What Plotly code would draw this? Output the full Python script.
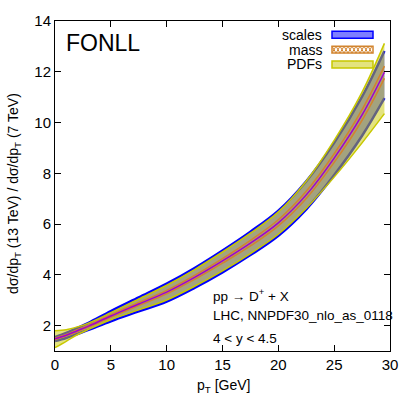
import plotly.graph_objects as go

# pT grid [GeV]
pt = [0, 1, 2, 3, 5, 7.5, 10, 12.5, 15, 17.5, 20, 22.5, 25, 27.5, 29.5]

# ratio dsigma/dpT (13 TeV) / dsigma/dpT (7 TeV), central value
central = [1.48, 1.62, 1.80, 1.98, 2.38, 2.85, 3.32, 3.90, 4.55, 5.25, 6.05, 7.15, 8.60, 10.30, 11.98]

# scale uncertainty band
scales_lo = [1.39, 1.51, 1.67, 1.83, 2.17, 2.56, 2.95, 3.49, 4.10, 4.78, 5.54, 6.58, 7.93, 9.48, 10.96]
scales_hi = [1.55, 1.71, 1.91, 2.11, 2.57, 3.11, 3.65, 4.27, 4.96, 5.70, 6.53, 7.69, 9.20, 11.02, 12.82]

# mass uncertainty band
mass_lo = [1.45, 1.59, 1.76, 1.94, 2.33, 2.79, 3.25, 3.82, 4.46, 5.14, 5.93, 7.01, 8.43, 10.09, 11.74]
mass_hi = [1.51, 1.65, 1.84, 2.02, 2.43, 2.91, 3.39, 3.98, 4.64, 5.36, 6.17, 7.29, 8.77, 10.51, 12.22]

# PDF uncertainty band
pdf_lo = [1.13, 1.38, 1.64, 1.85, 2.23, 2.62, 3.01, 3.55, 4.16, 4.84, 5.60, 6.62, 7.85, 9.20, 10.35]
pdf_hi = [1.80, 1.84, 1.95, 2.10, 2.51, 3.05, 3.59, 4.21, 4.90, 5.64, 6.48, 7.70, 9.30, 11.20, 13.12]

x_ticks = [0, 5, 10, 15, 20, 25, 30]
y_ticks = [2, 4, 6, 8, 10, 12, 14]

legend_names = ["scales", "mass", "PDFs"]
info_lines = ["pp \u2192 D<sup>+</sup> + X", "LHC, NNPDF30_nlo_as_0118", "4 < y < 4.5"]

FONT = "Liberation Sans, Arial, Helvetica, sans-serif"
BLUE = "#0000ff"
BLUE_FILL = "rgba(0,0,255,0.5)"
YELLOW = "#c8c800"
YELLOW_FILL = "rgba(200,200,0,0.5)"
ORANGE = "#d2842e"
PURPLE = "#a000d0"

# plot area in window pixels
LEFT, RIGHT, TOP, BOTTOM = 55, 390, 17, 351


def px_x(value):
    return (value - LEFT) / (RIGHT - LEFT)


def px_y(value):
    return (BOTTOM - value) / (BOTTOM - TOP)


def band(figure, low, high, line_color, line_width, fill_color, pattern=None):
    figure.add_trace(go.Scatter(x=pt, y=low, mode="lines", line=dict(color=line_color, width=line_width, shape="spline"),
                                showlegend=False, hoverinfo="skip"))
    figure.add_trace(go.Scatter(x=pt, y=high, mode="lines", fill="tonexty", fillcolor=fill_color,
                                fillpattern=pattern, line=dict(color=line_color, width=line_width, shape="spline"),
                                showlegend=False, hoverinfo="skip"))


fig = go.Figure()
band(fig, scales_lo, scales_hi, BLUE, 2.5, BLUE_FILL)
band(fig, pdf_lo, pdf_hi, YELLOW, 1.5, YELLOW_FILL)
band(fig, mass_lo, mass_hi, ORANGE, 1.5, "rgba(0,0,0,0)",
     pattern=dict(shape="x", fgcolor=ORANGE, bgcolor="rgba(0,0,0,0)", size=4, solidity=0.3))
fig.add_trace(go.Scatter(x=pt, y=central, mode="lines", line=dict(color=PURPLE, width=1.5, shape="spline"),
                         showlegend=False, hoverinfo="skip"))

axis_style = dict(showline=True, linecolor="black", linewidth=1, mirror="ticks", ticks="inside",
                  ticklen=6, tickcolor="black", showgrid=False, zeroline=False,
                  tickfont=dict(family=FONT, size=15, color="black"))
fig.update_xaxes(range=[0, 30], tickvals=x_ticks, **axis_style)
fig.update_yaxes(range=[1, 14], tickvals=y_ticks, **axis_style)

annotations = [
    dict(text="FONLL", x=px_x(64), y=px_y(39), xanchor="left", yanchor="middle", font=dict(size=23)),
    dict(text="p<sub>T</sub> [GeV]", x=px_x(223), y=px_y(386), xanchor="center", yanchor="middle"),
    dict(text="d\u03c3/dp<sub>T</sub> (13 TeV) / d\u03c3/dp<sub>T</sub> (7 TeV)", x=px_x(14), y=px_y(192),
         xanchor="center", yanchor="middle", textangle=-90),
]
for line_text, line_y in zip(info_lines, [294, 315, 338]):
    annotations.append(dict(text=line_text, x=px_x(211), y=px_y(line_y), xanchor="left", yanchor="middle",
                            font=dict(size=13.5)))

shapes = []
swatch_fill = [BLUE_FILL, "white", YELLOW_FILL]
swatch_line = [BLUE, ORANGE, YELLOW]
for index, name in enumerate(legend_names):
    row_y = 31 + 15 * index
    annotations.append(dict(text=name, x=px_x(324), y=px_y(row_y), xanchor="right", yanchor="middle"))
    shapes.append(dict(type="rect", xref="paper", yref="paper", x0=px_x(332), x1=px_x(373),
                       y0=px_y(row_y - 3.5), y1=px_y(row_y + 3.5), fillcolor=swatch_fill[index],
                       line=dict(color=swatch_line[index], width=1.5)))
    if name == "mass":
        zigzag_up = "M" + " L".join(f"{px_x(332 + 4 * k)},{px_y(row_y + (3.5 if k % 2 == 0 else -3.5))}" for k in range(11))
        zigzag_dn = "M" + " L".join(f"{px_x(332 + 4 * k)},{px_y(row_y - (3.5 if k % 2 == 0 else -3.5))}" for k in range(11))
        for path in (zigzag_up, zigzag_dn):
            shapes.append(dict(type="path", xref="paper", yref="paper", path=path,
                               line=dict(color=ORANGE, width=1)))

for item in annotations:
    item.update(xref="paper", yref="paper", showarrow=False)
    item.setdefault("font", {})
    item["font"] = dict(family=FONT, size=item["font"].get("size", 14), color="black")

fig.update_layout(
    width=415,
    height=415,
    margin=dict(l=LEFT, r=415 - RIGHT, t=TOP, b=415 - BOTTOM),
    plot_bgcolor="white",
    paper_bgcolor="white",
    showlegend=False,
    annotations=annotations,
    shapes=shapes,
)

# drop the browser's default page margin so the figure sits at the window's corner
fig.write_html("out.html", config={"displayModeBar": False},
               post_script="document.body.style.margin = '0';")
